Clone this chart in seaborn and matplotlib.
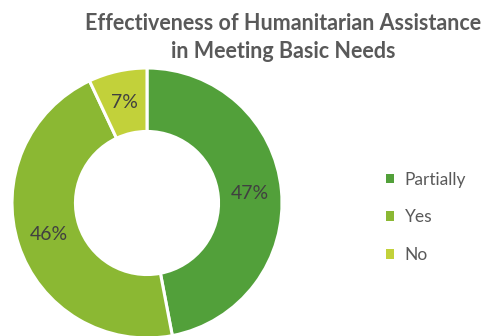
import matplotlib
matplotlib.use("Agg")
import matplotlib.pyplot as plt
import seaborn as sns

categories = ["Partially", "Yes", "No"]
shares = [47, 46, 7]
colors = ["#52a03a", "#8bb833", "#c2d13a"]

sns.set_theme(style="white")
plt.rcParams["font.family"] = ["Lato", "DejaVu Sans"]

fig = plt.figure(figsize=(4.86, 3.36), dpi=100)
ax = fig.add_axes([12 / 486, -2 / 336, 270 / 486, 270 / 336])

wedges, texts, autotexts = ax.pie(
    shares,
    colors=colors,
    startangle=90,
    counterclock=False,
    radius=1.0,
    autopct=lambda p: f"{p:.0f}%",
    pctdistance=0.765,
    wedgeprops=dict(width=0.47, edgecolor="white", linewidth=2.2),
    textprops=dict(color="#404040", fontsize=14, fontweight="normal"),
)
ax.set_aspect("equal")
ax.set_xlim(-1, 1)
ax.set_ylim(-1, 1)
ax.axis("off")

fig.text(283 / 486, 1 - 24 / 336, "Effectiveness of Humanitarian Assistance",
         ha="center", va="center", fontsize=15.5, fontweight="bold", color="#595959")
fig.text(283 / 486, 1 - 51 / 336, "in Meeting Basic Needs",
         ha="center", va="center", fontsize=15.5, fontweight="bold", color="#595959")

leg = fig.legend(
    wedges, categories,
    loc="upper left", bbox_to_anchor=(370 / 486, 1 - 156 / 336),
    frameon=False, fontsize=12.5, labelcolor="#595959",
    handlelength=0.5, handleheight=0.5, handletextpad=0.6,
    labelspacing=1.25,
)
for h in leg.legend_handles:
    h.set_edgecolor("none")

fig.savefig("out.png", dpi=100)
